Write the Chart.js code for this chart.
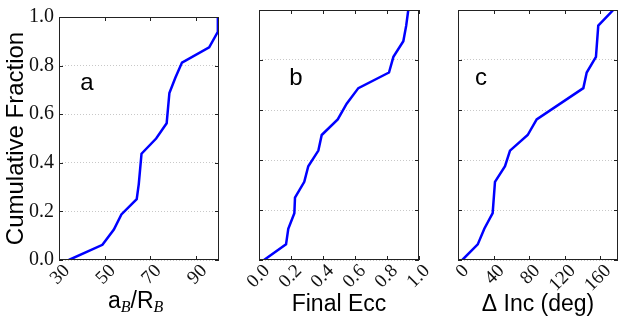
<!DOCTYPE html>
<html lang="en">
<head>
    <meta charset="UTF-8">
    <title>Cumulative Fraction</title>
    <script src="https://cdn.jsdelivr.net/npm/chart.js@4"></script>
    <style>
        body { margin: 0; background: #fff; }
        #wrap { position: relative; width: 618px; height: 325px; overflow: hidden; }
        canvas { position: absolute; top: 0; }
        .xlab { position: absolute; font-family: "Liberation Sans", Arial, sans-serif; font-size: 23px; color: #000; white-space: nowrap; }
        .xlab sub { font-family: "Liberation Serif", serif; font-style: italic; font-size: 16px; vertical-align: -4px; }
    </style>
</head>
<body>
    <div id="wrap">
        <canvas id="chartA" width="230" height="325" style="left:0px"></canvas>
        <canvas id="chartB" width="210" height="325" style="left:230px"></canvas>
        <canvas id="chartC" width="183" height="325" style="left:435px"></canvas>
        <div class="xlab" style="left:108px; top:287px">a<sub>B</sub>/R<sub>B</sub></div>
    </div>

    <script>
        // y ticks shared by all three panels
        const fracTicks = [0, 0.2, 0.4, 0.6, 0.8, 1.0];

        // panel a: a_B / R_B
        const aX = [34.3, 49.0, 54.0, 57.3, 64.0, 64.9, 66.1, 72.5, 77.1, 78.3, 80.9, 83.8, 95.7, 99.4, 99.5];
        const aY = [0, 0.0625, 0.125, 0.1875, 0.25, 0.3125, 0.4375, 0.5, 0.5625, 0.6875, 0.75, 0.8125, 0.875, 0.9375, 1.0];
        const aTicks = [30, 50, 70, 90];

        // panel b: final eccentricity
        const bX = [0.031, 0.169, 0.183, 0.221, 0.225, 0.283, 0.308, 0.371, 0.392, 0.492, 0.548, 0.621, 0.8125, 0.84, 0.902, 0.92, 0.933];
        const bY = [0, 0.0625, 0.125, 0.1875, 0.25, 0.3125, 0.375, 0.4375, 0.5, 0.5625, 0.625, 0.6875, 0.75, 0.8125, 0.875, 0.9375, 1.0];
        const bTicks = [0, 0.2, 0.4, 0.6, 0.8, 1.0];

        // panel c: change in inclination (deg)
        const cX = [4.8, 22.2, 29.6, 39.0, 41.6, 52.9, 58.5, 78.4, 88.5, 141, 144.8, 155.2, 157.8, 174.7];
        const cY = [0, 0.0625, 0.125, 0.1875, 0.3125, 0.375, 0.4375, 0.5, 0.5625, 0.6875, 0.75, 0.8125, 0.9375, 1.0];
        const cTicks = [0, 40, 80, 120, 160];

        const serif = "'Liberation Serif', 'DejaVu Serif', serif";
        const sans = "'Liberation Sans', Arial, sans-serif";

        // frame + inward ticks on all four sides, plus the panel letter
        const framePlugin = {
            id: 'frame',
            afterDraw(chart, args, opts) {
                const { ctx, chartArea: a, scales } = chart;
                ctx.save();
                ctx.strokeStyle = '#222';
                ctx.lineWidth = 1;
                ctx.strokeRect(a.left + 0.5, a.top + 0.5, a.right - a.left - 1, a.bottom - a.top - 1);
                ctx.beginPath();
                scales.x.ticks.forEach(t => {
                    const px = Math.round(scales.x.getPixelForValue(t.value)) + 0.5;
                    ctx.moveTo(px, a.bottom); ctx.lineTo(px, a.bottom - 4);
                    ctx.moveTo(px, a.top); ctx.lineTo(px, a.top + 4);
                });
                scales.y.ticks.forEach(t => {
                    const py = Math.round(scales.y.getPixelForValue(t.value)) + 0.5;
                    ctx.moveTo(a.left, py); ctx.lineTo(a.left + 4, py);
                    ctx.moveTo(a.right, py); ctx.lineTo(a.right - 4, py);
                });
                ctx.stroke();
                if (opts.letter) {
                    ctx.fillStyle = '#000';
                    ctx.font = '24px ' + sans;
                    ctx.textAlign = 'center';
                    ctx.textBaseline = 'alphabetic';
                    ctx.fillText(opts.letter, scales.x.getPixelForValue(opts.lx), scales.y.getPixelForValue(0.70));
                }
                ctx.restore();
            }
        };

        function makePanel(id, xs, ys, xTicks, xMin, xMax, xFmt, opt) {
            const pts = xs.map((x, i) => ({ x: x, y: ys[i] }));
            return new Chart(document.getElementById(id), {
                type: 'scatter',
                data: {
                    datasets: [{
                        data: pts,
                        showLine: true,
                        borderColor: '#0000ff',
                        borderWidth: 2.5,
                        pointRadius: 0,
                        tension: 0
                    }]
                },
                options: {
                    responsive: false,
                    animation: false,
                    layout: { autoPadding: false, padding: { top: 10, right: opt.padRight, left: 0, bottom: 0 } },
                    plugins: {
                        legend: { display: false },
                        tooltip: { enabled: false },
                        frame: { letter: opt.letter, lx: opt.lx }
                    },
                    scales: {
                        x: {
                            type: 'linear',
                            min: xMin,
                            max: xMax,
                            afterBuildTicks: s => { s.ticks = xTicks.map(v => ({ value: v })); },
                            afterFit: s => { s.height = 65; },
                            grid: { display: false, drawTicks: false },
                            border: { display: false },
                            ticks: {
                                font: { family: serif, size: 19 },
                                color: '#111',
                                autoSkip: false,
                                minRotation: 45,
                                maxRotation: 45,
                                padding: 0,
                                labelOffset: 8,
                                callback: v => xFmt(v)
                            },
                            title: {
                                display: !!opt.xTitle,
                                text: opt.xTitle || '',
                                font: { family: sans, size: 23 },
                                color: '#000',
                                padding: { top: 0, bottom: 7 }
                            }
                        },
                        y: {
                            min: 0,
                            max: 1,
                            afterBuildTicks: s => { s.ticks = fracTicks.map(v => ({ value: v })); },
                            afterFit: s => { s.width = opt.yWidth; },
                            grid: { color: '#c8c8c8', borderDash: [1, 2], drawTicks: false, lineWidth: 1 },
                            border: { display: false, dash: [1, 2] },
                            ticks: {
                                display: opt.yLabels,
                                font: { family: serif, size: 20 },
                                color: '#111',
                                padding: 5,
                                callback: v => v.toFixed(1)
                            },
                            title: {
                                display: opt.yLabels,
                                text: 'Cumulative Fraction',
                                font: { family: sans, size: 24 },
                                color: '#000',
                                padding: { top: 2, bottom: 0 }
                            }
                        }
                    }
                },
                plugins: [framePlugin]
            });
        }

        makePanel('chartA', aX, aY, aTicks, 30, 100, v => String(v),
            { padRight: 11, yWidth: 59, yLabels: true, letter: 'a', lx: 42.2 });
        makePanel('chartB', bX, bY, bTicks, 0, 1, v => v.toFixed(1),
            { padRight: 21, yWidth: 29, yLabels: false, letter: 'b', lx: 0.23, xTitle: 'Final Ecc' });
        makePanel('chartC', cX, cY, cTicks, 0, 180, v => String(v),
            { padRight: 0, yWidth: 23, yLabels: false, letter: 'c', lx: 26, xTitle: '\u0394 Inc (deg)' });
    </script>
</body>
</html>
